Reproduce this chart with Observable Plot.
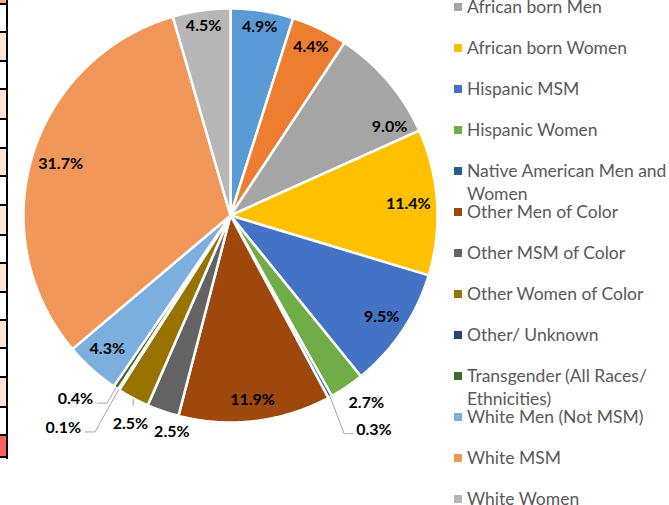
<!DOCTYPE html>
<html><head><meta charset="utf-8">
<script src="https://cdn.jsdelivr.net/npm/d3@7"></script>
<script src="https://cdn.jsdelivr.net/npm/@observablehq/plot@0.6"></script>
<style>
html,body{margin:0;padding:0;background:#fff;}
#wrap{position:relative;width:669px;height:505px;overflow:hidden;font-family:Lato,"Liberation Sans",sans-serif;}
#chart{position:absolute;left:0;top:0;}
#legend{position:absolute;left:454px;top:0;width:215px;height:505px;}
.item{position:absolute;left:0;width:220px;}
.sw{position:absolute;left:0;top:7.5px;width:8px;height:8px;}
.lt{position:absolute;left:13px;top:0;width:205px;font-size:17.5px;line-height:23px;color:#595959;white-space:normal;}
#table{position:absolute;left:0;top:0;width:8px;height:505px;}
.cell{position:absolute;left:0;width:6px;}
.hl{position:absolute;left:0;width:8px;height:2px;background:#000;}
.vl{position:absolute;left:6px;width:2px;background:#000;}
</style>
</head><body>
<div id="wrap">
  <div id="chart"></div>
  <div id="legend"></div>
  <div id="table"></div>
</div>
<script>
// ---- data ----
const categories = [
  "African American MSM",
  "African American Women",
  "African born Men",
  "African born Women",
  "Hispanic MSM",
  "Hispanic Women",
  "Native American Men and Women",
  "Other Men of Color",
  "Other MSM of Color",
  "Other Women of Color",
  "Other/ Unknown",
  "Transgender (All Races/ Ethnicities)",
  "White Men (Not MSM)",
  "White MSM",
  "White Women"
];
const shares = [4.9, 4.4, 9.0, 11.4, 9.5, 2.7, 0.3, 11.9, 2.5, 2.5, 0.1, 0.4, 4.3, 31.7, 4.5];
const valueLabels = ["4.9%", "4.4%", "9.0%", "11.4%", "9.5%", "2.7%", "0.3%", "11.9%", "2.5%", "2.5%", "0.1%", "0.4%", "4.3%", "31.7%", "4.5%"];
const sliceColors = ["#5B9BD5", "#ED7D31", "#A5A5A5", "#FFC000", "#4472C4", "#70AD47", "#255E91", "#9E480E", "#636363", "#997300", "#264478", "#43682B", "#7CAFDD", "#F1975A", "#B7B7B7"];
// legend entries visible in the picture (the first two are scrolled out of view)
const legendFirstIndex = 2;

// ---- layout (not data) ----
const CX = 230, CY = 215, R = 207;
// label placements that differ from the default "inside end": angle (deg, clockwise from top), radius factor, leader style
const labelLayout = {
  "African born Men": {angle: 61},
  "Other Men of Color": {k: 0.896},
  "White Men (Not MSM)": {angle: 222.8, k: 0.876},
  "Hispanic Women": {angle: 144, k: 1.116, leader: null},
  "Native American Men and Women": {angle: 146.2, k: 1.245, leader: "right"},
  "Other MSM of Color": {angle: 195.2, k: 1.081, leader: null},
  "Other Women of Color": {angle: 205.7, k: 1.115, leader: "down"},
  "Other/ Unknown": {angle: 218.2, k: 1.306, leader: "left"},
  "Transgender (All Races/ Ethnicities)": {angle: 220.2, k: 1.161, leader: "left"}
};

const rows = categories.map((c, i) => ({name: c, share: shares[i], label: valueLabels[i]}));
const arcs = d3.pie().sort(null).value(d => d.share)(rows);

// slice polygons
const poly = [];
for (const a of arcs) {
  poly.push({name: a.data.name, x: 0, y: 0});
  const n = Math.max(2, Math.ceil((a.endAngle - a.startAngle) / 0.005));
  for (let j = 0; j <= n; j++) {
    const t = a.startAngle + (a.endAngle - a.startAngle) * j / n;
    poly.push({name: a.data.name, x: Math.sin(t), y: Math.cos(t)});
  }
}

const FS = 16;
const ctx = document.createElement("canvas").getContext("2d");
ctx.font = `bold ${FS}px Lato`;
const LH = 15;

const labels = [];
const leaders = [];
for (const a of arcs) {
  const mid = (a.startAngle + a.endAngle) / 2;
  const w = ctx.measureText(a.data.label).width;
  const o = labelLayout[a.data.name] || {};
  const th = o.angle != null ? o.angle * Math.PI / 180 : mid;
  let k = o.k;
  if (k == null) {
    const ext = Math.abs(Math.sin(th)) * w / 2 + Math.abs(Math.cos(th)) * LH / 2;
    k = (R - 6 - ext) / R;
  }
  const lx = k * Math.sin(th), ly = k * Math.cos(th);
  labels.push({label: a.data.label, x: lx, y: ly});
  if (o.leader) {
    const ex = Math.sin(mid), ey = Math.cos(mid);
    const hw = w / 2 / R, dyl = -4 / R;
    if (o.leader === "left") {
      const side = lx + hw;
      leaders.push({id: a.data.name, x: ex, y: ey});
      leaders.push({id: a.data.name, x: side + 14 / R, y: ly + dyl});
      leaders.push({id: a.data.name, x: side + 4 / R, y: ly + dyl});
    } else if (o.leader === "right") {
      const side = lx - hw;
      leaders.push({id: a.data.name, x: ex, y: ey});
      leaders.push({id: a.data.name, x: side - 12 / R, y: ly + dyl});
      leaders.push({id: a.data.name, x: side - 3 / R, y: ly + dyl});
    } else if (o.leader === "down") {
      leaders.push({id: a.data.name, x: ex, y: ey - 1 / R});
      leaders.push({id: a.data.name, x: ex, y: ly + 18 / R});
    }
  }
}

const chart = Plot.plot({
  width: 669,
  height: 505,
  margin: 0,
  style: {fontFamily: "Lato, 'Liberation Sans', sans-serif", background: "transparent"},
  x: {domain: [-1, 1], range: [CX - R, CX + R], axis: null},
  y: {domain: [-1, 1], range: [CY + R, CY - R], axis: null},
  color: {domain: categories, range: sliceColors},
  marks: [
    Plot.line(poly, {x: "x", y: "y", z: "name", fill: "name", stroke: "white", strokeWidth: 2.5, curve: "linear-closed"}),
    Plot.line(leaders, {x: "x", y: "y", z: "id", stroke: "#A6A6A6", strokeWidth: 1}),
    Plot.text(labels, {x: "x", y: "y", text: "label", fontSize: FS, fontWeight: "bold", fill: "#000", textAnchor: "middle"})
  ]
});
document.getElementById("chart").appendChild(chart);

// legend (entries at a fixed pitch)
const legend = document.getElementById("legend");
const pitch = 41, firstVisibleCenter = 6.5;
categories.forEach((c, i) => {
  if (i < legendFirstIndex) return;
  const top = firstVisibleCenter + (i - legendFirstIndex) * pitch - 11.5;
  const item = document.createElement("div");
  item.className = "item";
  item.style.top = top + "px";
  const sw = document.createElement("div");
  sw.className = "sw";
  sw.style.background = sliceColors[i];
  const lt = document.createElement("div");
  lt.className = "lt";
  lt.textContent = c;
  item.appendChild(sw);
  item.appendChild(lt);
  legend.appendChild(item);
});

// fragment of an adjacent table cut at the left edge
const table = document.getElementById("table");
const rowEdges = [0, 3, 32, 61, 89, 119, 148, 176, 205, 235, 263, 292, 320, 348, 377, 407, 435, 457];
for (let i = 0; i < rowEdges.length - 1; i++) {
  const cell = document.createElement("div");
  cell.className = "cell";
  cell.style.top = rowEdges[i] + "px";
  cell.style.height = (rowEdges[i + 1] - rowEdges[i]) + "px";
  cell.style.background = i === 0 ? "#F4B084" : i === rowEdges.length - 2 ? "#FF6060" : (i % 2 === 0 ? "#FCE4D6" : "#fff");
  table.appendChild(cell);
}
rowEdges.slice(1).forEach(y => {
  const l = document.createElement("div");
  l.className = "hl";
  l.style.top = (y === 3 ? 3 : y - 1) + "px";
  table.appendChild(l);
});
const vl = document.createElement("div");
vl.className = "vl";
vl.style.top = "0px";
vl.style.height = "459px";
table.appendChild(vl);
</script>
</body></html>
